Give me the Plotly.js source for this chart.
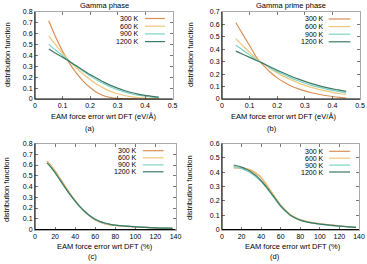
<!DOCTYPE html>
<html><head><meta charset="utf-8">
<script src="https://cdn.plot.ly/plotly-3.0.1.min.js"></script>
<style>html,body{margin:0;padding:0;background:#fff}#c{width:367px;height:264px}</style>
</head><body><div id="c"></div>
<script>
// ---- data ----
const temps = ["300 K", "600 K", "900 K", "1200 K"];
const colors = ["#d98f55", "#efc67a", "#7dd3c3", "#3d7866"];

// (a) Gamma phase, eV/Å
const xA = [0.05,0.075,0.1,0.125,0.15,0.175,0.2,0.225,0.25,0.275,0.3,0.325,0.35,0.375,0.4,0.425,0.45];
const a300  = [0.72,0.57,0.44,0.33,0.24,0.165,0.105,0.06,0.03,0.013,0.005,0.002,0.001,0,0,0,0];
const a600  = [0.58,0.50,0.42,0.35,0.285,0.23,0.18,0.135,0.10,0.07,0.048,0.032,0.02,0.013,0.008,0.005,0.003];
const a900  = [0.505,0.45,0.40,0.35,0.30,0.255,0.215,0.175,0.14,0.11,0.085,0.065,0.048,0.035,0.025,0.018,0.012];
const a1200 = [0.46,0.42,0.385,0.345,0.305,0.265,0.225,0.19,0.155,0.125,0.10,0.078,0.06,0.045,0.033,0.025,0.018];

// (b) Gamma prime phase, eV/Å
const xB = xA;
const b300  = [0.615,0.52,0.43,0.335,0.27,0.215,0.17,0.135,0.105,0.083,0.065,0.05,0.038,0.028,0.02,0.013,0.008];
const b600  = [0.485,0.43,0.375,0.325,0.285,0.245,0.21,0.18,0.155,0.13,0.11,0.093,0.078,0.065,0.054,0.044,0.036];
const b900  = [0.435,0.395,0.355,0.315,0.285,0.25,0.22,0.195,0.17,0.147,0.127,0.11,0.095,0.082,0.07,0.06,0.05];
const b1200 = [0.385,0.36,0.335,0.31,0.285,0.258,0.232,0.207,0.183,0.162,0.142,0.124,0.108,0.094,0.082,0.071,0.061];

// (c) Gamma phase, %
const xC = [12,15,20,25,30,35,40,45,50,55,60,65,70,75,80,90,100,110,120,130,137];
const c300  = [0.635,0.605,0.545,0.475,0.405,0.335,0.27,0.21,0.16,0.12,0.088,0.067,0.052,0.043,0.037,0.03,0.025,0.02,0.016,0.013,0.011];
const c600  = [0.63,0.60,0.54,0.47,0.40,0.33,0.27,0.21,0.162,0.122,0.09,0.068,0.054,0.045,0.039,0.031,0.025,0.02,0.016,0.013,0.011];
const c900  = [0.62,0.59,0.528,0.458,0.388,0.322,0.262,0.208,0.163,0.125,0.095,0.074,0.059,0.049,0.042,0.033,0.026,0.02,0.015,0.012,0.01];
const c1200 = [0.62,0.59,0.53,0.46,0.39,0.325,0.265,0.21,0.165,0.125,0.095,0.073,0.058,0.048,0.041,0.032,0.025,0.02,0.015,0.012,0.01];

// (d) Gamma prime phase, %
const xD = xC;
const d300  = [0.43,0.43,0.428,0.42,0.41,0.39,0.36,0.315,0.265,0.215,0.17,0.13,0.10,0.08,0.066,0.05,0.04,0.032,0.025,0.019,0.015];
const d600  = [0.435,0.433,0.43,0.425,0.415,0.395,0.365,0.32,0.27,0.22,0.17,0.135,0.105,0.085,0.07,0.052,0.042,0.033,0.026,0.019,0.015];
const d900  = [0.44,0.435,0.425,0.41,0.39,0.365,0.335,0.295,0.25,0.205,0.16,0.125,0.097,0.078,0.063,0.047,0.037,0.029,0.023,0.018,0.014];
const d1200 = [0.45,0.445,0.435,0.42,0.40,0.375,0.34,0.30,0.255,0.21,0.165,0.13,0.10,0.08,0.065,0.048,0.038,0.03,0.024,0.018,0.015];

const panels = [
  {x: xA, ys: [a300,a600,a900,a1200], xa: "x",  ya: "y"},
  {x: xB, ys: [b300,b600,b900,b1200], xa: "x2", ya: "y2"},
  {x: xC, ys: [c300,c600,c900,c1200], xa: "x3", ya: "y3"},
  {x: xD, ys: [d300,d600,d900,d1200], xa: "x4", ya: "y4"}
];

const W = 367, H = 264;
const px = v => v / W, py = v => 1 - v / H;
const FONT = "Liberation Sans, Arial, sans-serif";

const traces = [];
panels.forEach(p => {
  p.ys.forEach((y, i) => {
    traces.push({x: p.x, y: y, xaxis: p.xa, yaxis: p.ya, type: "scatter", mode: "lines",
      line: {color: colors[i], width: 1.2, shape: "spline", smoothing: 0.6},
      name: temps[i], showlegend: false, hoverinfo: "skip"});
  });
});

function axis(dom, range, dtick, anchor) {
  return {domain: dom, range: range, dtick: dtick, anchor: anchor, showgrid: false, zeroline: false,
    showline: true, linecolor: "#aaaaaa", linewidth: 1, mirror: "ticks",
    ticks: "inside", ticklen: 3, tickwidth: 1, tickcolor: "#777",
    tickfont: {family: FONT, size: 7, color: "#000"}, fixedrange: true};
}
const yTop = [py(99), py(12)], yBot = [py(229.5), py(143.5)];

const layout = {
  width: W, height: H, margin: {l: 0, r: 0, t: 0, b: 0}, paper_bgcolor: "#fff", plot_bgcolor: "#fff",
  showlegend: false,
  xaxis:  axis([px(35), px(172.5)], [0, 0.5], 0.1, "y"),
  yaxis:  axis(yTop, [0, 0.8], 0.1, "x"),
  xaxis2: axis([px(222), px(360)], [0, 0.5], 0.1, "y2"),
  yaxis2: axis(yTop, [0, 0.7], 0.1, "x2"),
  xaxis3: axis([px(35), px(175.5)], [0, 140], 20, "y3"),
  yaxis3: axis(yBot, [0, 0.8], 0.1, "x3"),
  xaxis4: axis([px(222), px(359)], [0, 140], 20, "y4"),
  yaxis4: axis(yBot, [0, 0.6], 0.1, "x4"),
  annotations: [], shapes: []
};

function txt(text, x, y, opts) {
  layout.annotations.push(Object.assign({text: text, x: px(x), y: py(y), xref: "paper", yref: "paper",
    showarrow: false, xanchor: "center", yanchor: "middle",
    font: {family: FONT, size: 7.5, color: "#000"}}, opts || {}));
}
txt("Gamma phase", 104, 5.5);
txt("Gamma prime phase", 291, 5.5);
txt("EAM force error wrt DFT (eV/Å)", 103, 117);
txt("EAM force error wrt DFT (eV/Å)", 283, 117);
txt("EAM force error wrt DFT (%)", 104.5, 246);
txt("EAM force error wrt DFT (%)", 292.5, 246);
txt("(a)", 90, 128);
txt("(b)", 272, 128);
txt("(c)", 92.5, 256.5);
txt("(d)", 274.5, 256.5);
txt("distribution function", 7, 55, {textangle: -90});
txt("distribution function", 190, 55, {textangle: -90});
txt("distribution function", 6, 190, {textangle: -90});
txt("distribution function", 189, 188, {textangle: -90});

// black left / bottom border
["", "2", "3", "4"].forEach(s => {
  const xr = "x" + s + " domain", yr = "y" + s + " domain";
  layout.shapes.push({type: "line", xref: xr, yref: yr, x0: 0, x1: 0, y0: 0, y1: 1, line: {color: "#000", width: 1}});
  layout.shapes.push({type: "line", xref: xr, yref: yr, x0: 0, x1: 1, y0: 0, y1: 0, line: {color: "#000", width: 1}});
});

// gnuplot-style keys (text then sample line)
const keys = [
  {s: "",  lab: 0.771, l0: 0.80, l1: 0.945, rows: [18.5, 26.2, 33.9, 41.6], top: 12, h: 87},
  {s: "2", lab: 0.751, l0: 0.773, l1: 0.93, rows: [19, 26.6, 34.2, 41.8], top: 12, h: 87},
  {s: "3", lab: 0.743, l0: 0.768, l1: 0.915, rows: [150.7, 157.8, 164.9, 171.8], top: 143.5, h: 86},
  {s: "4", lab: 0.759, l0: 0.782, l1: 0.935, rows: [151.3, 158.2, 165.1, 172], top: 143.5, h: 86}
];
keys.forEach(k => {
  const xr = "x" + k.s + " domain", yr = "y" + k.s + " domain";
  k.rows.forEach((r, i) => {
    const yf = 1 - (r - k.top) / k.h;
    layout.annotations.push({text: temps[i], xref: xr, yref: yr, x: k.lab, y: yf, xanchor: "right", yanchor: "middle",
      showarrow: false, font: {family: FONT, size: 7, color: "#000"}});
    layout.shapes.push({type: "line", xref: xr, yref: yr, x0: k.l0, x1: k.l1, y0: yf, y1: yf,
      line: {color: colors[i], width: 1.2}});
  });
});

Plotly.newPlot("c", traces, layout, {staticPlot: true, displayModeBar: false});
</script></body></html>
